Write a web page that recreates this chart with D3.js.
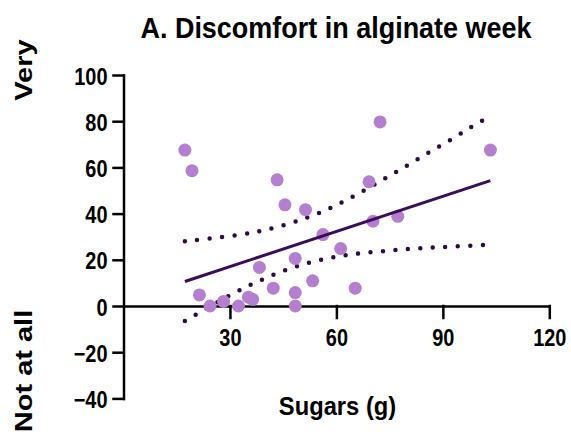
<!DOCTYPE html>
<html>
<head>
<meta charset="utf-8">
<script src="https://cdn.jsdelivr.net/npm/d3@7"></script>
<style>
  body { margin: 0; background: #fff; }
  text { font-family: "Liberation Sans", Arial, sans-serif; font-weight: bold; fill: #000; }
</style>
</head>
<body>
<div id="chart"></div>
<script>
// values
var sugars = [17.3, 19.3, 21.4, 24.4, 28.2, 32.4, 35.2, 36.4, 38.3, 42.2, 43.3, 45.5, 48.4, 48.4, 48.4, 51.3, 53.3, 56.2, 61.2, 65.3, 69.2, 70.3, 72.3, 77.3, 103.4];
var discomfort = [67.5, 58.6, 4.8, 0, 2, 0, 3.8, 2.9, 16.7, 7.7, 54.6, 43.8, 20.6, 5.8, 0, 41.7, 10.9, 30.9, 24.9, 7.7, 53.8, 36.7, 79.7, 38.8, 67.5];

// fitted line and 95% band, as drawn
var fitX = [17.3, 103.4];
var fitY = [10.6, 54.3];
var upperX = [17.3, 31.6, 42.2, 52.6, 59.2, 65.9, 72.3, 78.7, 85.1, 91.5, 97.9, 103.4];
var upperY = [28, 30.4, 33.3, 38.6, 42.9, 48.3, 54, 59.6, 65.7, 71.2, 77.5, 82.3];
var lowerX = [17.3, 20.6, 30, 36.6, 43.5, 50.3, 57.3, 64.3, 71.7, 78.9, 86, 93.2, 103.4];
var lowerY = [-6.5, -3.6, 4.8, 9.8, 14.5, 18.1, 20.7, 22.5, 23.5, 24.6, 25.2, 25.8, 26.5];

var xTicks = [30, 60, 90, 120];
var yTicks = [-40, -20, 0, 20, 40, 60, 80, 100];

var svgWidth = 571, svgHeight = 440;

var svg = d3.select("#chart")
    .append("svg")
    .attr("width", svgWidth)
    .attr("height", svgHeight);

var x = d3.scaleLinear().domain([0, 120]).range([123.5, 549.3]);
var y = d3.scaleLinear().domain([-40, 100]).range([398.4, 75]);

// axes
var yAxis = svg.append("g")
    .attr("transform", "translate(" + x(0) + ",0)")
    .call(d3.axisLeft(y).tickValues(yTicks).tickSize(10).tickSizeOuter(0));

var xAxis = svg.append("g")
    .attr("transform", "translate(0," + y(0) + ")")
    .call(d3.axisBottom(x).tickValues(xTicks).tickSize(12).tickSizeOuter(0));

svg.selectAll(".domain, .tick line")
    .attr("stroke", "#000")
    .attr("stroke-width", 2.5)
    .attr("stroke-linecap", "square");

yAxis.selectAll("text")
    .attr("font-size", 24)
    .attr("transform", "scale(0.83,1)")
    .attr("x", -16 / 0.83)
    .attr("dy", "0.38em");

xAxis.selectAll("text")
    .attr("font-size", 24)
    .attr("transform", "scale(0.83,1)")
    .attr("y", 40)
    .attr("dy", null);

// confidence band (dotted)
var line = d3.line();
var band = d3.line().curve(d3.curveBasis);
var bands = [d3.zip(upperX, upperY), d3.zip(lowerX, lowerY)];
svg.selectAll(".band")
    .data(bands)
    .enter()
    .append("path")
    .attr("class", "band")
    .attr("d", function(d) { return band(d.map(function(p) { return [x(p[0]), y(p[1])]; })); })
    .attr("fill", "none")
    .attr("stroke", "#2e0a45")
    .attr("stroke-width", 4.5)
    .attr("stroke-linecap", "round")
    .attr("stroke-dasharray", "0 12.5");

// points
svg.selectAll(".dot")
    .data(d3.zip(sugars, discomfort))
    .enter()
    .append("circle")
    .attr("class", "dot")
    .attr("cx", function(d) { return x(d[0]); })
    .attr("cy", function(d) { return y(d[1]); })
    .attr("r", 6.5)
    .attr("fill", "#b47fcf");

// regression line
svg.append("path")
    .attr("d", line(d3.zip(fitX, fitY).map(function(p) { return [x(p[0]), y(p[1])]; })))
    .attr("fill", "none")
    .attr("stroke", "#3a0c5a")
    .attr("stroke-width", 3);

// title and labels
svg.append("text")
    .attr("transform", "translate(336,38) scale(0.93,1)")
    .attr("text-anchor", "middle")
    .attr("font-size", 29)
    .text("A. Discomfort in alginate week");

svg.append("text")
    .attr("transform", "translate(337.5,415) scale(0.95,1)")
    .attr("text-anchor", "middle")
    .attr("font-size", 25)
    .text("Sugars (g)");

svg.append("text")
    .attr("transform", "translate(32,70) rotate(-90) scale(1,0.85)")
    .attr("text-anchor", "middle")
    .attr("font-size", 29)
    .text("Very");

svg.append("text")
    .attr("transform", "translate(32,371) rotate(-90) scale(1,0.85)")
    .attr("text-anchor", "middle")
    .attr("font-size", 29)
    .text("Not at all");
</script>
</body>
</html>
